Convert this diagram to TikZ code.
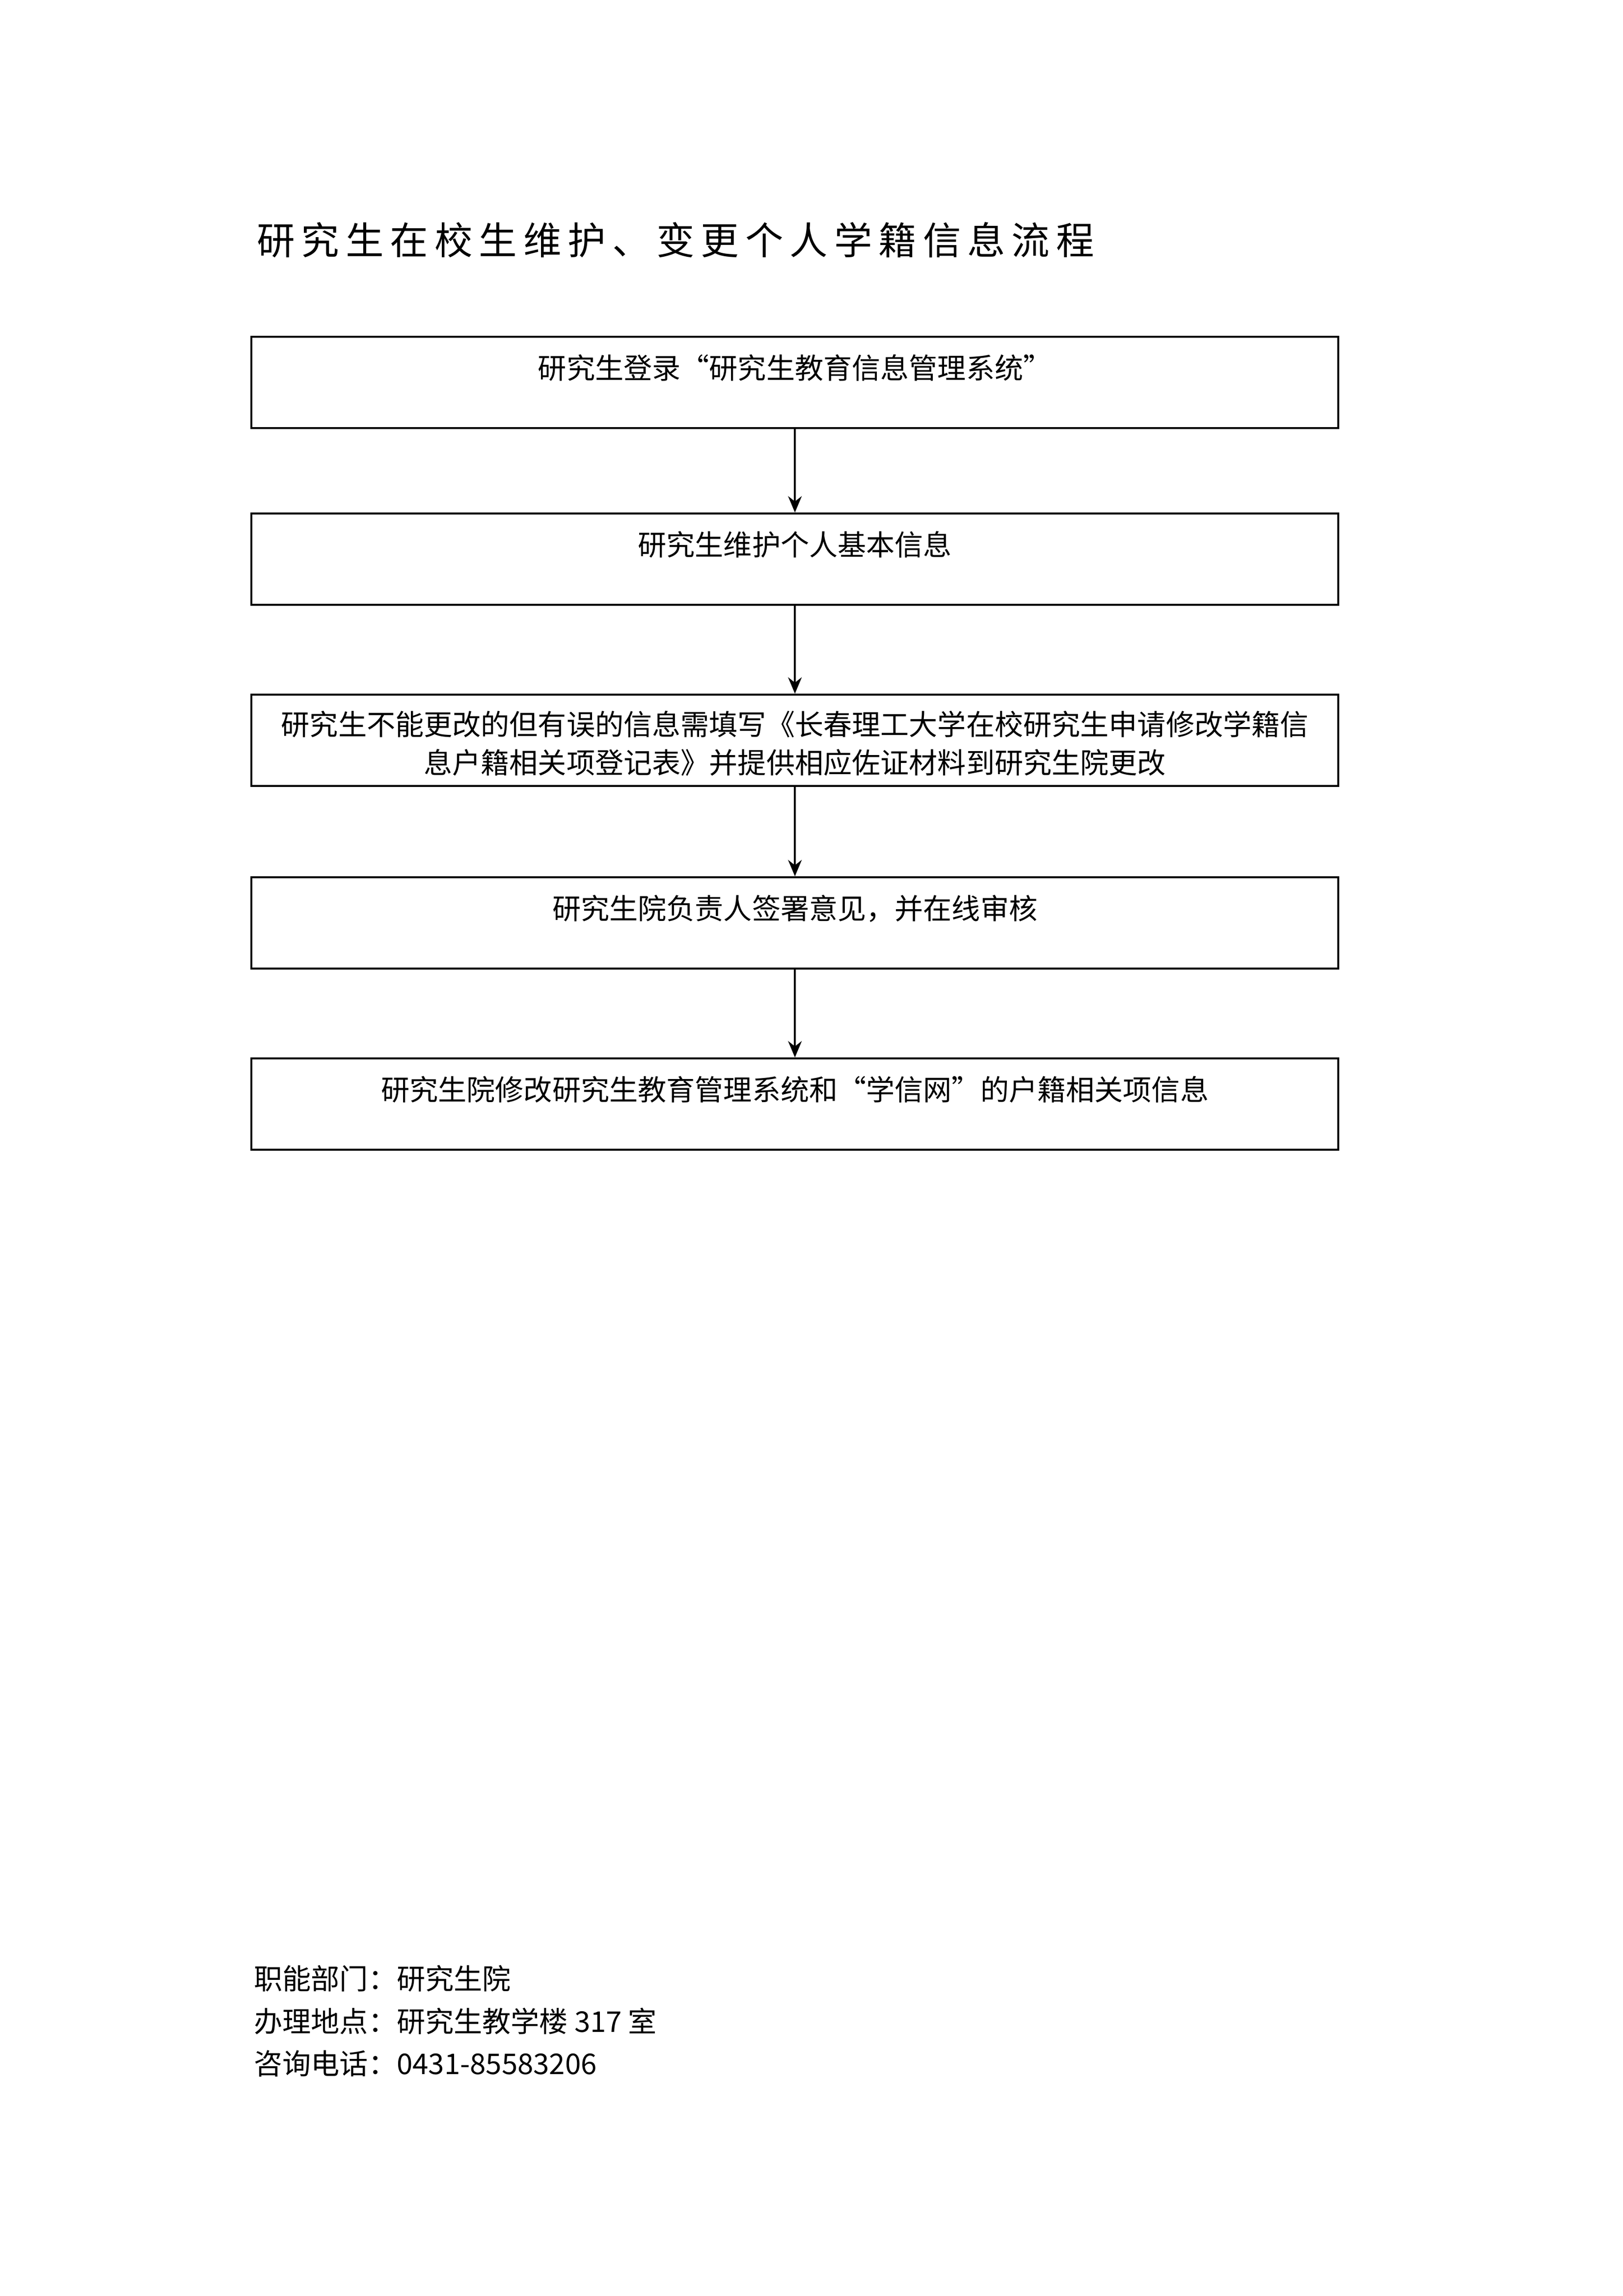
\documentclass[tikz,border=0pt]{standalone}
\usepackage{fontspec}
\setmainfont{Noto Sans CJK SC}
\usetikzlibrary{arrows.meta}
\begin{document}
\begin{tikzpicture}[x=0.01905cm,y=-0.01905cm,
  box/.style={draw,line width=0.8pt,minimum width=738*0.01905cm,minimum height=62*0.01905cm,anchor=north west,inner sep=0pt},
  lbl/.style={anchor=north,font=\fontsize{10.5}{14}\selectfont,align=center},
  arr/.style={-{Stealth[length=6pt,width=5pt]},line width=0.8pt}]
\useasboundingbox (0,0) rectangle (1102,1559);
\node[anchor=west,font=\fontsize{14}{16}\selectfont] (title) at (168,163) {研\,究\,生\,在\,校\,生\,维\,护\,、\,变\,更\,个\,人\,学\,籍\,信\,息\,流\,程};
\node[box] (b1) at (170,228) {};
\node[box] (b2) at (170,348) {};
\node[box] (b3) at (170,471) {};
\node[box] (b4) at (170,595) {};
\node[box] (b5) at (170,718) {};
\node[lbl] (t1) at ([yshift=-0.12cm]b1.north) {研究生登录“研究生教育信息管理系统”};
\node[lbl] (t2) at ([yshift=-0.12cm]b2.north) {研究生维护个人基本信息};
\node[lbl] (t3) at ([yshift=-0.1cm]b3.north) {研究生不能更改的但有误的信息需填写《长春理工大学在校研究生申请修改学籍信\\息户籍相关项登记表》并提供相应佐证材料到研究生院更改};
\node[lbl] (t4) at ([yshift=-0.12cm]b4.north) {研究生院负责人签署意见，并在线审核};
\node[lbl] (t5) at ([yshift=-0.12cm]b5.north) {研究生院修改研究生教育管理系统和“学信网”的户籍相关项信息};
\foreach \a/\b in {b1/b2,b2/b3,b3/b4,b4/b5}{\draw[arr] (\a.south) -- (\b.north);}
\node[anchor=north west,align=left,font=\fontsize{10.5}{15.6}\selectfont] (foot) at (166,1328) {职能部门：研究生院\\办理地点：研究生教学楼 317 室\\咨询电话：0431-85583206};
\end{tikzpicture}
\end{document}
